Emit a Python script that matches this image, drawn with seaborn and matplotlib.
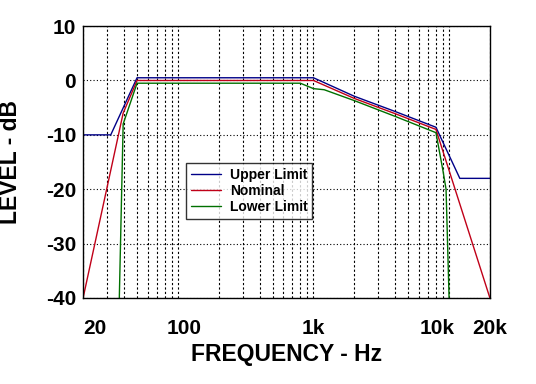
import numpy as np
import pandas as pd
import matplotlib
matplotlib.use("Agg")
import matplotlib.pyplot as plt
import matplotlib.transforms as mtransforms
import seaborn as sns

# --- data -------------------------------------------------------------------
freq_upper = [20, 32, 50, 1000, 2000, 4000, 8000, 12000, 20000]
level_upper = [-10, -10, 0.5, 0.5, -2.9, -5.7, -8.6, -18, -18]

freq_nominal = [20, 39.5, 50, 1000, 2000, 4000, 8000, 20000]
level_nominal = [-40, -6, 0, 0, -3.3, -6.1, -9.0, -40]

freq_lower = [37, 39.5, 50, 800, 1000, 1200, 2000, 4000, 8000, 9000, 9500, 10000]
level_lower = [-40, -8, -0.5, -0.5, -1.5, -1.7, -3.7, -6.6, -9.6, -16.5, -20, -40]

curve_names = ["Upper Limit", "Nominal", "Lower Limit"]
xtick_vals = [20, 100, 1000, 10000, 20000]
xtick_labels = ["20", "100", "1k", "10k", "20k"]
ytick_vals = [-40, -30, -20, -10, 0, 10]

df = pd.concat([
    pd.DataFrame({"freq": freq_upper, "level": level_upper, "curve": curve_names[0]}),
    pd.DataFrame({"freq": freq_nominal, "level": level_nominal, "curve": curve_names[1]}),
    pd.DataFrame({"freq": freq_lower, "level": level_lower, "curve": curve_names[2]}),
], ignore_index=True)

# --- style ---------------------------------------------------------------
sns.set_theme(style="white")
plt.rcParams["font.family"] = ["Liberation Sans", "DejaVu Sans"]
plt.rcParams["font.weight"] = "bold"
plt.rcParams["axes.unicode_minus"] = False
for chave in ("text.color", "axes.labelcolor", "xtick.color", "ytick.color"):
    plt.rcParams[chave] = "black"

cores = {"Upper Limit": "#000088", "Nominal": "#c00018", "Lower Limit": "#007000"}

fig, ax = plt.subplots(figsize=(5.36, 3.84), dpi=100)
fig.subplots_adjust(left=0.155, right=0.914, bottom=0.224, top=0.932)

sns.lineplot(data=df, x="freq", y="level", hue="curve", hue_order=curve_names,
             palette=cores, estimator=None, sort=False, linewidth=1.0, ax=ax)

ax.set_xscale("log")
ax.set_xlim(20, 20000)
ax.set_ylim(-40, 10)

# grid: every 1..9 x decade vertically, every 10 dB horizontally
minor_x = [m * d for d in (10, 100, 1000) for m in range(2, 10) if 20 <= m * d <= 20000] + [10000, 20000]
ax.set_xticks(xtick_vals)
ax.set_xticklabels(xtick_labels)
ax.set_xticks(minor_x, minor=True)
ax.xaxis.set_minor_formatter(matplotlib.ticker.NullFormatter())
ax.set_yticks(ytick_vals)
ax.grid(True, which="both", axis="x", color="black", linestyle=(0, (2, 2)), linewidth=0.8)
ax.grid(True, which="major", axis="y", color="black", linestyle=(0, (1, 2)), linewidth=0.8)

ax.tick_params(axis="both", which="both", length=0, labelsize=15, labelcolor="black")
ax.tick_params(axis="x", pad=15)
ax.tick_params(axis="y", pad=5)
for lab in ax.get_xticklabels() + ax.get_yticklabels():
    lab.set_fontweight("bold")

# nudge a few frequency labels like the original
ax.get_xticklabels()[0].set_horizontalalignment("left")
desloc = {"100": 6, "10k": -12}
for lab in ax.get_xticklabels():
    dx = desloc.get(lab.get_text(), 0)
    if dx:
        lab.set_transform(lab.get_transform() + mtransforms.ScaledTranslation(dx / 100, 0, fig.dpi_scale_trans))

for s in ax.spines.values():
    s.set_color("black")
    s.set_linewidth(1.0)

ax.set_xlabel("FREQUENCY - Hz", fontsize=16.5, fontweight="bold", color="black")
ax.set_ylabel("LEVEL - dB", fontsize=16.5, fontweight="bold", color="black")
ax.xaxis.set_label_coords(0.5, -0.165)
ax.xaxis.label.set_verticalalignment("top")
ax.yaxis.set_label_coords(-0.15, 0.5)

leg = ax.legend(loc="upper left", bbox_to_anchor=(0.253, 0.496), frameon=True, fancybox=False,
                prop={"size": 10, "weight": "bold"}, handlelength=2.2, handletextpad=0.6,
                labelspacing=0.15, borderpad=0.35, borderaxespad=0)
leg.get_frame().set_edgecolor("black")
leg.get_frame().set_linewidth(1.0)
for h in leg.get_lines():
    h.set_linewidth(1.0)
for t in leg.get_texts():
    t.set_color("black")

fig.savefig("out.png", dpi=100)
